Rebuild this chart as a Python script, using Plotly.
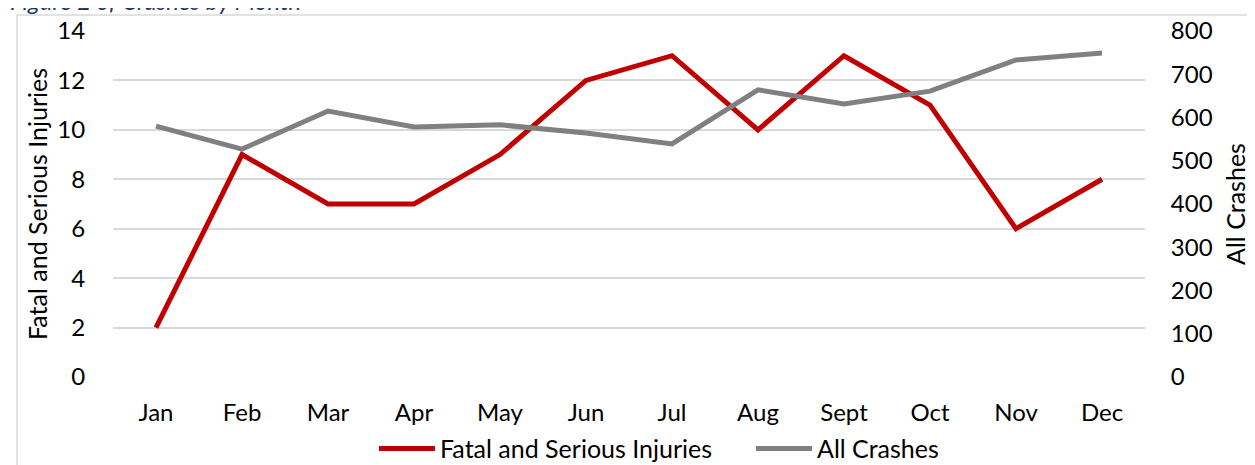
import plotly.graph_objects as go

# monthly data
months = ["Jan", "Feb", "Mar", "Apr", "May", "Jun", "Jul", "Aug", "Sept", "Oct", "Nov", "Dec"]
fatal_serious = [2, 9, 7, 7, 9, 12, 13, 10, 13, 11, 6, 8]
all_crashes = [580, 527, 615, 578, 583, 564, 539, 664, 631, 661, 733, 749]

font_name = "Lato, Open Sans, sans-serif"

fig = go.Figure()
fig.add_trace(go.Scatter(x=months, y=fatal_serious, name="Fatal and Serious Injuries",
                         mode="lines", line=dict(color="#C00000", width=5), legend="legend"))
fig.add_trace(go.Scatter(x=months, y=all_crashes, name="All Crashes", yaxis="y2",
                         mode="lines", line=dict(color="#808080", width=5), legend="legend2"))

legend_style = dict(orientation="h", xref="container", yref="container",
                    xanchor="left", y=0.052, yanchor="middle",
                    font=dict(size=25), itemwidth=56)

fig.update_layout(
    width=1255, height=465,
    margin=dict(l=105, r=118, t=23, b=96, autoexpand=False),
    paper_bgcolor="white", plot_bgcolor="white",
    font=dict(family=font_name, size=24, color="#000000"),
    showlegend=True,
    legend=dict(x=366 / 1255, **legend_style),
    legend2=dict(x=743 / 1255, **legend_style),
    xaxis=dict(type="category", range=[-0.5, 11.5], showgrid=False, showline=False, zeroline=False,
               ticks="outside", ticklen=14, tickcolor="rgba(0,0,0,0)", automargin=False),
    yaxis=dict(range=[0, 14], dtick=2, showgrid=True, gridcolor="#D9D9D9", gridwidth=1.5,
               zeroline=False, showline=False, automargin=False,
               ticks="outside", ticklen=22, tickcolor="rgba(0,0,0,0)",
               title=dict(text="Fatal and Serious Injuries", standoff=2, font=dict(size=25))),
    yaxis2=dict(range=[0, 800], dtick=100, overlaying="y", side="right", showgrid=False,
                zeroline=False, showline=False, automargin=False,
                ticks="outside", ticklen=20, tickcolor="rgba(0,0,0,0)",
                title=dict(text="All Crashes", standoff=15, font=dict(size=25))),
)

# outer chart border
fig.add_shape(type="rect", xref="paper", yref="paper",
              x0=(9 - 105) / 1032, x1=1.2, y0=-0.4, y1=(369 - 7) / 346,
              line=dict(color="#D9D9D9", width=1.5), fillcolor="rgba(0,0,0,0)", layer="below")

# cropped figure caption at the very top
fig.add_annotation(text="<i>Figure 2 of Crashes by Month</i>", xref="paper", yref="paper",
                   x=(0 - 105) / 1032, y=(369 - 9) / 346, xanchor="left", yanchor="bottom",
                   showarrow=False, font=dict(size=24, color="#1F3864"))

fig.write_html("out.html")
